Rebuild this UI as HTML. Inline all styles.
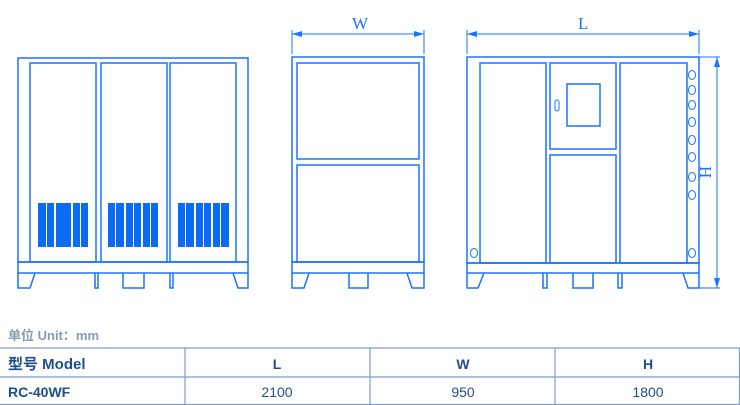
<!DOCTYPE html>
<html><head><meta charset="utf-8"><style>
body{margin:0;background:#fff;width:740px;height:405px;overflow:hidden;font-family:"Liberation Sans","Noto Sans CJK SC",sans-serif}
svg{position:absolute;left:0;top:0}
</style></head><body>
<svg width="740" height="405" viewBox="0 0 740 405" xmlns="http://www.w3.org/2000/svg">
<g fill="none" stroke="#1a73ff" stroke-width="1.5">
<rect x="18" y="58" width="230" height="204"/>
<rect x="18" y="262" width="230" height="11"/>
<rect x="30" y="63" width="66" height="199"/>
<rect x="101" y="63" width="66" height="199"/>
<rect x="170" y="63" width="66" height="199"/>
<path d="M18 273 V288 H30 L35 273 M95 273 V288 H98 V273 M123 273 V288 H144 V273 M170 273 V288 H173 V273 M248 273 V288 H238 L233 273"/>
<rect x="292" y="57" width="132" height="205"/>
<rect x="292" y="262" width="132" height="11"/>
<rect x="297" y="63" width="122" height="96"/>
<rect x="297" y="165" width="122" height="97"/>
<path d="M292 273 V288 H304 L309 273 M349 273 V288 H368 V273 M424 273 V288 H412 L407 273"/>
<path d="M292 30 V54 M424 30 V54 M292 34 H424" stroke-width="1"/>
<rect x="467" y="57" width="232" height="206"/>
<rect x="467" y="263" width="232" height="10"/>
<rect x="480" y="63" width="66" height="200"/>
<rect x="550" y="63" width="66" height="86"/>
<rect x="550" y="155" width="66" height="108"/>
<rect x="620" y="63" width="67" height="200"/>
<rect x="567" y="84" width="33" height="42"/>
<rect x="555" y="100" width="4" height="11" rx="2" stroke-width="1"/>
<g stroke-width="1">
<ellipse cx="692" cy="75" rx="3.5" ry="4.5"/><ellipse cx="692" cy="90" rx="3.5" ry="4.5"/>
<ellipse cx="692" cy="105" rx="3.5" ry="4.5"/><ellipse cx="692" cy="122" rx="3.5" ry="4.5"/>
<ellipse cx="692" cy="140" rx="3.5" ry="4.5"/><ellipse cx="692" cy="157" rx="3.5" ry="4.5"/>
<ellipse cx="692" cy="177" rx="3.5" ry="4.5"/><ellipse cx="692" cy="195" rx="3.5" ry="4.5"/>
<ellipse cx="692" cy="253" rx="3.5" ry="4.5"/><ellipse cx="474" cy="253" rx="3.5" ry="4.5"/>
</g>
<path d="M467 273 V288 H478 L484 273 M543 273 V288 H547 V273 M573 273 V288 H593 V273 M618 273 V288 H622 V273 M699 273 V288 H688 L683 273"/>
<path d="M467 30 V54 M699 30 V54 M467 34 H699 M699 57 H720 M699 288 H720 M717 57 V288" stroke-width="1"/>
</g>
<g fill="#1a73ff">
<path d="M292 34 l10 -3 v6z M424 34 l-10 -3 v6z M467 34 l10 -3 v6z M699 34 l-10 -3 v6z M717 57 l-3 10 h6z M717 288 l-3 -10 h6z"/>
</g>
<g fill="#0a6cf5">
<rect x="38" y="203" width="8" height="44"/><rect x="47" y="203" width="7" height="44"/>
<rect x="56" y="203" width="15" height="44"/>
<rect x="73" y="203" width="7" height="44"/><rect x="81" y="203" width="7" height="44"/>
<rect x="108" y="203" width="7" height="44"/><rect x="116" y="203" width="8" height="44"/>
<rect x="126" y="203" width="7" height="44"/><rect x="134" y="203" width="7" height="44"/>
<rect x="143" y="203" width="7" height="44"/><rect x="151" y="203" width="7" height="44"/>
<rect x="178" y="203" width="7" height="44"/><rect x="186" y="203" width="8" height="44"/>
<rect x="196" y="203" width="7" height="44"/><rect x="204" y="203" width="7" height="44"/>
<rect x="213" y="203" width="7" height="44"/><rect x="221" y="203" width="8" height="44"/>
</g>
<g fill="#1a73ff" font-family="Liberation Serif,serif" font-size="17">
<text x="352" y="29">W</text>
<text x="578" y="29">L</text>
<text transform="translate(700,166) rotate(90)">H</text>
</g>
<text x="8" y="340" font-size="13" fill="#8a9bb0" font-weight="bold">单位 Unit：mm</text>
<g stroke="#7f9dc8" stroke-width="1.2" fill="none">
<path d="M0 348 H740 M0 377 H740 M0 404.5 H740 M185 348 V405 M370 348 V405 M555 348 V405 M739.5 348 V405"/>
</g>
<g fill="#1f4e8c" font-size="14">
<text x="8" y="369" font-weight="bold" font-size="15">型号 Model</text>
<text x="277" y="369" font-weight="bold" text-anchor="middle">L</text>
<text x="463" y="369" font-weight="bold" text-anchor="middle">W</text>
<text x="648" y="369" font-weight="bold" text-anchor="middle">H</text>
<text x="8" y="397" font-weight="bold">RC-40WF</text>
<text x="277" y="397" text-anchor="middle">2100</text>
<text x="463" y="397" text-anchor="middle">950</text>
<text x="648" y="397" text-anchor="middle">1800</text>
</g>
</svg>
</body></html>
